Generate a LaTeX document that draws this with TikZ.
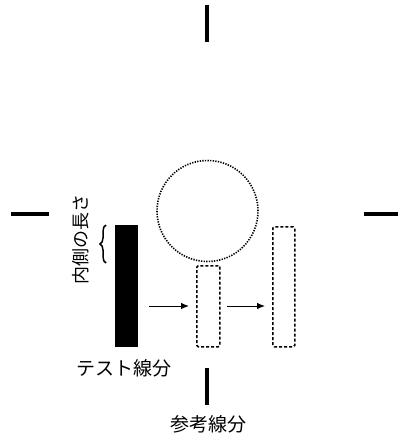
\documentclass[tikz,border=0pt]{standalone}
\usepackage{fontspec}
\newfontfamily\jp{Noto Sans CJK JP}
\usetikzlibrary{decorations.pathreplacing,arrows.meta}
\begin{document}
\begin{tikzpicture}[x=1pt,y=-1pt,
  tick/.style={line width=3.5pt},
  dashbox/.style={draw, line width=1.5pt, dash pattern=on 3pt off 2pt, rounded corners=1.5pt, inner sep=0pt, anchor=north west},
  arr/.style={line width=1pt, -{Latex[length=8pt,width=6.5pt]}},
  lbl/.style={font=\jp\fontsize{19}{19}\selectfont, inner sep=0pt}]
\useasboundingbox (0,0) rectangle (398,436);
% fixation ticks
\draw[tick] (207,5) -- (207,42);
\draw[tick] (11,214) -- (49,214);
\draw[tick] (364,214) -- (398,214);
\draw[tick] (207,368) -- (207,405);
% test bar
\node[fill=black, draw=black, minimum width=22pt, minimum height=121pt, inner sep=0pt, anchor=north west] (bar) at (115,225) {};
% circle
\node[circle, draw, line width=1.6pt, dash pattern=on 1.3pt off 1.3pt, minimum size=101pt, inner sep=0pt] (circ) at (207.5,211) {};
% dashed boxes
\node[dashbox, minimum width=23pt, minimum height=81pt] (r1) at (196,265) {};
\node[dashbox, minimum width=22pt, minimum height=120pt] (r2) at (272,226) {};
% arrows
\coordinate (ay) at (0,306);
\draw[arr, shorten <=12pt, shorten >=7pt] (bar.east |- ay) -- (r1.west |- ay);
\draw[arr, shorten <=6pt, shorten >=7pt] (r1.east |- ay) -- (r2.west |- ay);
% brace
\draw[line width=1.5pt, decorate, decoration={brace, amplitude=6pt}] (106,263) -- (106,225);
% labels
\node[lbl, font=\jp\fontsize{18}{18}\selectfont, rotate=90] (inner) at (81,239.5) {内側の長さ};
\node[lbl] (test) at (124,368.5) {テスト線分};
\node[lbl] (ref) at (208,424.5) {参考線分};
\end{tikzpicture}
\end{document}
